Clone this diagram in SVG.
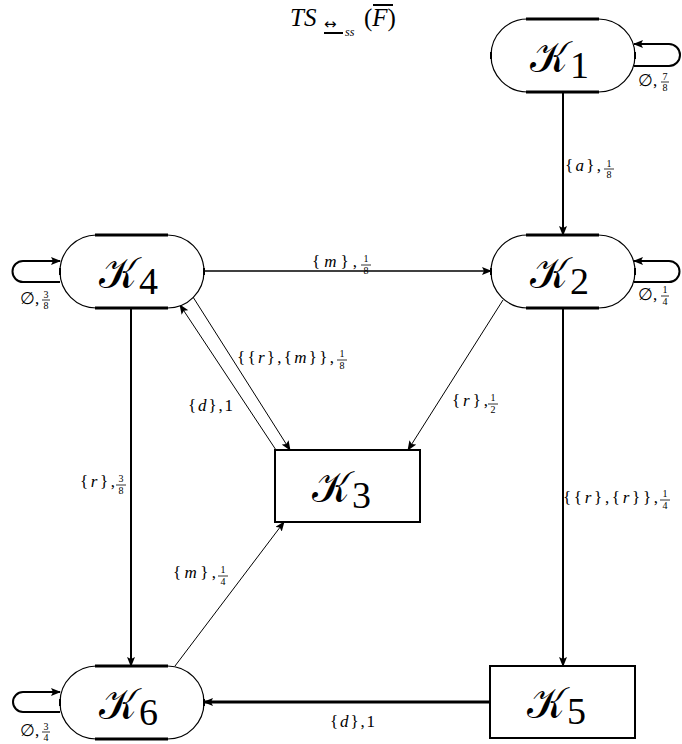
<svg xmlns="http://www.w3.org/2000/svg" width="682" height="744" viewBox="0 0 682 744">
<style>
.st{fill:#fff;stroke:#000;stroke-width:1.2}
.hv{stroke:#000;stroke-width:3}
.tk{stroke:#000;stroke-width:2}
.bx{fill:#fff;stroke:#000;stroke-width:2}
.K{font-family:"DejaVu Serif","Liberation Serif",serif;font-size:44px;fill:#000}
.Ks{font-family:"Liberation Serif",serif;font-size:38px;fill:#000}
.lb{font-family:"Liberation Serif",serif;font-size:17px;fill:#000}
.fr{font-family:"Liberation Serif",serif;font-size:10px;fill:#000;text-anchor:middle}
.it{font-style:italic}
.c{fill:none;stroke:#000}
.fb{stroke:#000;stroke-width:0.8}
</style>
<defs>
<marker id="ah" markerUnits="userSpaceOnUse" markerWidth="10" markerHeight="8" refX="9" refY="4" orient="auto">
<path d="M0,0 L10,4 L0,8 L2,4 z" fill="#000"/>
</marker>
</defs>

<g id="title">
<text x="290" y="26" font-family="Liberation Serif" font-size="25" font-style="italic">TS</text>
<text x="324" y="29" font-family="DejaVu Sans" font-size="15">↔</text>
<line x1="324" y1="33" x2="343" y2="33" stroke="#000" stroke-width="2"/>
<text x="345" y="36" font-family="Liberation Serif" font-size="12" font-style="italic">ss</text>
<text x="364" y="26" font-family="Liberation Serif" font-size="25">(<tspan font-style="italic">F</tspan>)</text>
<line x1="373" y1="5" x2="393" y2="5" stroke="#000" stroke-width="2"/>
</g>

<g id="connectors">
<line class="c" x1="563" y1="92" x2="563" y2="235" stroke-width="2" marker-end="url(#ah)"/>
<line class="c" x1="204" y1="271" x2="491" y2="271" stroke-width="1.6" marker-end="url(#ah)"/>
<line class="c" x1="131" y1="308" x2="131" y2="666" stroke-width="2" marker-end="url(#ah)"/>
<line class="c" x1="563" y1="308" x2="563" y2="666" stroke-width="2" marker-end="url(#ah)"/>
<line class="c" x1="490" y1="702" x2="204" y2="702" stroke-width="3" marker-end="url(#ah)"/>
<line class="c" x1="503" y1="300" x2="408" y2="450" stroke-width="1" marker-end="url(#ah)"/>
<line class="c" x1="193" y1="297" x2="290" y2="450" stroke-width="1" marker-end="url(#ah)"/>
<line class="c" x1="276" y1="450" x2="180" y2="305" stroke-width="1" marker-end="url(#ah)"/>
<line class="c" x1="175" y1="666" x2="284" y2="522" stroke-width="1" marker-end="url(#ah)"/>
<path class="c" stroke-width="2" d="M634,66 H669 A11,11 0 0 0 669,44 H634" marker-end="url(#ah)"/>
<path class="c" stroke-width="2" d="M634,282 H669 A10.5,10.5 0 0 0 669,261 H634" marker-end="url(#ah)"/>
<path class="c" stroke-width="2" d="M60,282 H23 A10.5,10.5 0 0 1 23,261 H60" marker-end="url(#ah)"/>
<path class="c" stroke-width="2" d="M60,712 H23 A10,10 0 0 1 23,692 H60" marker-end="url(#ah)"/>

<text class="lb" x="565" y="171" textLength="36">{<tspan class="it">a</tspan>},</text>
<text class="fr" x="609" y="167">1</text><line class="fb" x1="604" y1="169" x2="614" y2="169"/><text class="fr" x="609" y="178">8</text>

<text class="lb" x="638" y="86">∅,</text>
<text class="fr" x="665" y="80">7</text><line class="fb" x1="661" y1="82" x2="669" y2="82"/><text class="fr" x="665" y="91">8</text>

<text class="lb" x="638" y="300">∅,</text>
<text class="fr" x="665" y="293">1</text><line class="fb" x1="661" y1="296" x2="669" y2="296"/><text class="fr" x="665" y="305">4</text>

<text class="lb" x="20" y="304">∅,</text>
<text class="fr" x="46" y="298">3</text><line class="fb" x1="42" y1="300" x2="50" y2="300"/><text class="fr" x="46" y="309">8</text>

<text class="lb" x="20" y="736">∅,</text>
<text class="fr" x="46" y="730">3</text><line class="fb" x1="42" y1="732" x2="50" y2="732"/><text class="fr" x="46" y="741">4</text>

<text class="lb" x="312" y="267" textLength="45">{<tspan class="it">m</tspan>},</text>
<text class="fr" x="366" y="262">1</text><line class="fb" x1="361" y1="265" x2="371" y2="265"/><text class="fr" x="366" y="274">8</text>

<text class="lb" x="237" y="363" textLength="97">{{<tspan class="it">r</tspan>},{<tspan class="it">m</tspan>}},</text>
<text class="fr" x="342" y="357">1</text><line class="fb" x1="337" y1="360" x2="347" y2="360"/><text class="fr" x="342" y="369">8</text>

<text class="lb" x="188" y="411" textLength="45">{<tspan class="it">d</tspan>},1</text>

<text class="lb" x="452" y="406" textLength="36">{<tspan class="it">r</tspan>},</text>
<text class="fr" x="493" y="401">1</text><line class="fb" x1="488" y1="404" x2="498" y2="404"/><text class="fr" x="493" y="413">2</text>

<text class="lb" x="563" y="503" textLength="95">{{<tspan class="it">r</tspan>},{<tspan class="it">r</tspan>}},</text>
<text class="fr" x="665" y="497">1</text><line class="fb" x1="660" y1="500" x2="670" y2="500"/><text class="fr" x="665" y="509">4</text>

<text class="lb" x="80" y="487" textLength="35">{<tspan class="it">r</tspan>},</text>
<text class="fr" x="121" y="482">3</text><line class="fb" x1="116" y1="485" x2="126" y2="485"/><text class="fr" x="121" y="494">8</text>

<text class="lb" x="173" y="578" textLength="43">{<tspan class="it">m</tspan>},</text>
<text class="fr" x="223" y="573">1</text><line class="fb" x1="218" y1="576" x2="228" y2="576"/><text class="fr" x="223" y="585">4</text>

<text class="lb" x="330" y="727" textLength="45">{<tspan class="it">d</tspan>},1</text>
</g>

<g id="K1">
<rect class="st" x="491" y="19" width="144" height="73" rx="36.5"/>
<line class="hv" x1="526" y1="19" x2="599" y2="19"/><line class="hv" x1="526" y1="92" x2="599" y2="92"/>
<line class="tk" x1="491" y1="52" x2="491" y2="59"/><line class="tk" x1="635" y1="52" x2="635" y2="59"/>
<text class="K" x="530" y="72" textLength="38" lengthAdjust="spacingAndGlyphs">𝒦</text><text class="Ks" x="570" y="78">1</text>
</g>
<g id="K2">
<rect class="st" x="491" y="235" width="144" height="73" rx="36.5"/>
<line class="hv" x1="526" y1="235" x2="599" y2="235"/><line class="hv" x1="526" y1="308" x2="599" y2="308"/>
<line class="tk" x1="491" y1="268" x2="491" y2="275"/><line class="tk" x1="635" y1="268" x2="635" y2="275"/>
<text class="K" x="530" y="288" textLength="38" lengthAdjust="spacingAndGlyphs">𝒦</text><text class="Ks" x="570" y="294">2</text>
</g>
<g id="K4">
<rect class="st" x="60" y="235" width="144" height="73" rx="36.5"/>
<line class="hv" x1="95" y1="235" x2="168" y2="235"/><line class="hv" x1="95" y1="308" x2="168" y2="308"/>
<line class="tk" x1="60" y1="268" x2="60" y2="275"/><line class="tk" x1="204" y1="268" x2="204" y2="275"/>
<text class="K" x="99" y="288" textLength="38" lengthAdjust="spacingAndGlyphs">𝒦</text><text class="Ks" x="139" y="294">4</text>
</g>
<g id="K6">
<rect class="st" x="60" y="666" width="144" height="73" rx="36.5"/>
<line class="hv" x1="95" y1="666" x2="168" y2="666"/><line class="hv" x1="95" y1="739" x2="168" y2="739"/>
<line class="tk" x1="60" y1="699" x2="60" y2="706"/><line class="tk" x1="204" y1="699" x2="204" y2="706"/>
<text class="K" x="99" y="719" textLength="38" lengthAdjust="spacingAndGlyphs">𝒦</text><text class="Ks" x="139" y="725">6</text>
</g>
<g id="K3">
<rect class="bx" x="275" y="450" width="145" height="72"/>
<text class="K" x="312" y="502" textLength="38" lengthAdjust="spacingAndGlyphs">𝒦</text><text class="Ks" x="352" y="508">3</text>
</g>
<g id="K5">
<rect class="bx" x="490" y="666" width="145" height="72"/>
<text class="K" x="527" y="718" textLength="38" lengthAdjust="spacingAndGlyphs">𝒦</text><text class="Ks" x="567" y="724">5</text>
</g>
</svg>
